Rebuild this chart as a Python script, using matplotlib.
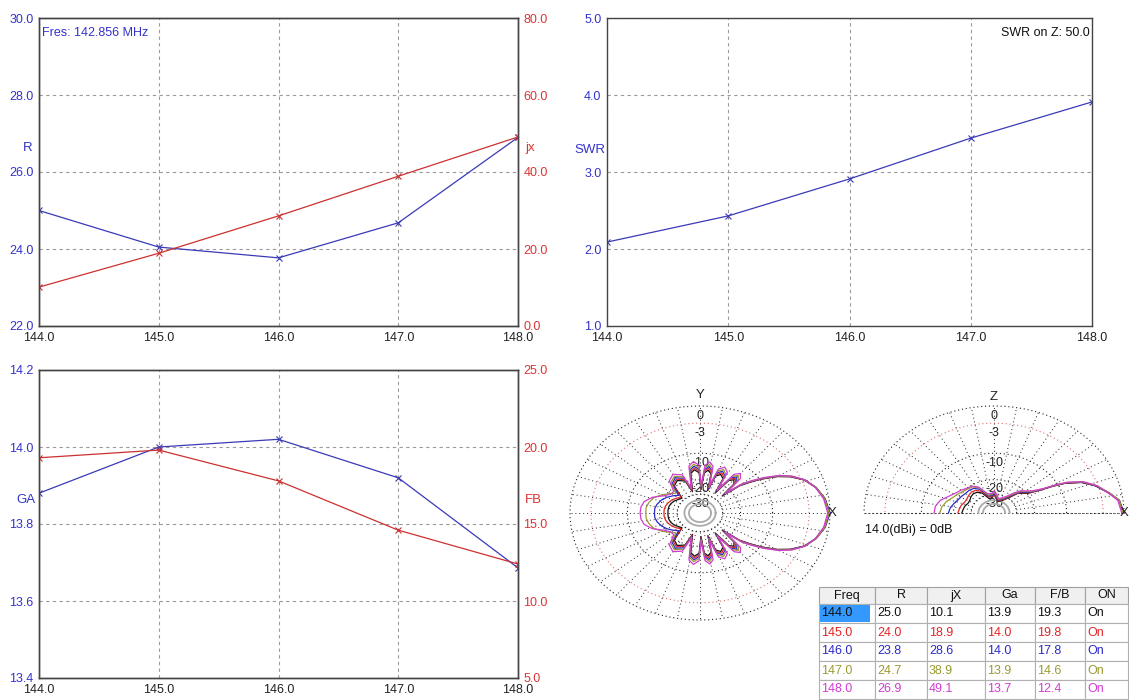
import numpy as np
import matplotlib.pyplot as plt

plt.rcParams['font.family'] = ['Liberation Sans', 'DejaVu Sans']
plt.rcParams['font.size'] = 9

# sweep data
freq = [144.0, 145.0, 146.0, 147.0, 148.0]
r_ohm = [25.0, 24.05, 23.77, 24.68, 26.9]
jx = [10.1, 18.9, 28.6, 38.9, 49.1]
swr = [2.09, 2.43, 2.91, 3.44, 3.91]
ga = [13.88, 14.0, 14.02, 13.92, 13.686]
fb = [19.3, 19.8, 17.8, 14.6, 12.4]

# table
table_cols = ['Freq', 'R', 'jX', 'Ga', 'F/B', 'ON']
table_rows = [
    ['144.0', '25.0', '10.1', '13.9', '19.3', 'On'],
    ['145.0', '24.0', '18.9', '14.0', '19.8', 'On'],
    ['146.0', '23.8', '28.6', '14.0', '17.8', 'On'],
    ['147.0', '24.7', '38.9', '13.9', '14.6', 'On'],
    ['148.0', '26.9', '49.1', '13.7', '12.4', 'On'],
]
freq_colors = ['#111111', '#e02626', '#2a2ac8', '#9a9a30', '#d23cd2']

# azimuth pattern, upper half (deg), dB rel. 14.0 dBi, mirrored below
az_ang = [0, 8, 15, 21, 26, 30, 34, 37, 40, 43,
          46, 50, 54, 58, 61, 66, 71, 74, 77, 81, 85, 88,
          91, 96, 101, 106, 111, 120, 128, 135,
          142, 150, 158, 166, 173, 180]
az_144 = [-0.1, -0.55, -1.4, -2.6, -4.4, -6.6, -9.8, -12.8, -16, -25,
          -16.8, -15.5, -16.8, -26, -17.3, -16, -17.3, -26, -16.8, -15.5, -16.8, -26,
          -16.8, -15.5, -16.8, -27, -19.5, -18, -19.5, -28,
          -27, -25.5, -24.5, -24, -24, -24]
az_145 = [0.0, -0.5, -1.35, -2.55, -4.35, -6.5, -9.7, -12.6, -15.7, -24.3,
          -16.1, -14.8, -16.1, -25.3, -16.6, -15.3, -16.6, -25.3, -16.1, -14.8, -16.1, -25.3,
          -16.1, -14.8, -16.1, -26.3, -18.8, -17.3, -18.8, -27,
          -25.5, -24, -23, -22.3, -22, -22]
az_146 = [0.0, -0.5, -1.35, -2.5, -4.3, -6.4, -9.5, -12.4, -15.4, -23.6,
          -15.4, -14.1, -15.4, -24.6, -15.9, -14.6, -15.9, -24.6, -15.4, -14.1, -15.4, -24.6,
          -15.4, -14.1, -15.4, -25.6, -18.1, -16.6, -18.1, -25,
          -23, -21, -19.5, -18.5, -18, -18]
az_147 = [-0.1, -0.55, -1.35, -2.5, -4.2, -6.3, -9.3, -12.1, -15.0, -22.9,
          -14.7, -13.4, -14.7, -23.9, -15.2, -13.9, -15.2, -23.9, -14.7, -13.4, -14.7, -23.9,
          -14.7, -13.4, -14.7, -24.9, -17.4, -15.9, -17.4, -23,
          -21, -18.5, -16.5, -15.5, -15, -15]
az_148 = [-0.3, -0.7, -1.45, -2.5, -4.1, -6.1, -9.0, -11.7, -14.5, -22,
          -13.8, -12.5, -13.8, -23, -14.3, -13, -14.3, -23, -13.8, -12.5, -13.8, -23,
          -13.8, -12.5, -13.8, -24, -16.5, -15, -16.5, -21.5,
          -21.5, -19.5, -16, -14, -13.4, -13.3]

# elevation pattern (deg above horizon, forward = 0)
el_ang = [0, 7, 12, 18, 23, 27, 29, 31, 35, 40, 45, 50, 60, 75, 85, 90, 95, 105,
          116, 124, 132, 140, 148, 156, 164, 172, 180]
el_144 = [-0.1, -0.5, -1.8, -3.4, -5.4, -8.5, -11.5, -15, -19.5, -21.5, -23, -28, -34, -38, -33, -30,
          -33, -34, -27, -25, -24.5, -25, -26, -26, -25, -24.5, -24]
el_145 = [0.0, -0.5, -1.7, -3.3, -5.3, -8.3, -11.3, -14.8, -19, -21, -22.5, -27, -33, -37, -32, -30,
          -32, -32, -25.5, -23.5, -23, -23.5, -24, -24, -23, -22.5, -22]
el_146 = [0.0, -0.5, -1.7, -3.3, -5.2, -8.2, -11.0, -14.5, -18.5, -20.5, -22, -26, -32, -36, -31, -29,
          -31, -31, -24, -22, -21.5, -21.5, -21, -20.5, -19.5, -18.5, -18]
el_147 = [-0.1, -0.5, -1.7, -3.2, -5.1, -8.0, -10.8, -14.2, -18, -20, -21.5, -25, -31, -35, -30, -28,
          -30, -30, -23, -21, -20.5, -20, -19, -18, -16.5, -15.5, -15]
el_148 = [-0.3, -0.7, -1.8, -3.2, -5.0, -7.8, -10.5, -14, -17.5, -19.5, -21, -24, -30, -34, -29, -27,
          -29, -29, -22.5, -20.5, -20, -19, -18, -16.5, -14.5, -13.5, -13.3]

ring_db = [0, -3, -10, -20, -30]

BLUE = '#3333cc'
RED = '#dd3333'
LBLUE = '#3a3ab8'
LRED = '#cc3030'

W, H = 1129, 700
fig = plt.figure(figsize=(W / 100, H / 100), dpi=100)


def px_axes(l, t, r, b):
    return fig.add_axes([l / W, 1 - b / H, (r - l) / W, (b - t) / H])


def style(ax, ycolor):
    for s in ax.spines.values():
        s.set_color('#444444')
        s.set_linewidth(1.0)
    ax.tick_params(axis='y', length=0, pad=4, colors=ycolor, labelsize=9)
    ax.tick_params(axis='x', length=0, pad=4, colors='#222222', labelsize=9)


def grid(ax):
    ax.grid(True, color='#9a9a9a', linestyle=(0, (3, 3)), linewidth=0.8)


def arrl(db):
    return 0.89 ** (-np.asarray(db, dtype=float) / 2.0)


xt = [f'{f:.1f}' for f in freq]

# --- R / jX ---
ax1 = px_axes(39, 18, 518, 326)
style(ax1, BLUE)
grid(ax1)
ax1.plot(freq, r_ohm, color=LBLUE, lw=0.9, marker='x', ms=4, mew=0.8)
ax1.set_xlim(144, 148)
ax1.set_ylim(22, 30)
ax1.set_yticks(np.arange(22, 31, 2))
ax1.set_yticklabels([f'{v:.1f}' for v in np.arange(22, 31, 2)])
ax1.set_xticks(freq)
ax1.set_xticklabels(xt)
ax1b = ax1.twinx()
style(ax1b, RED)
ax1b.plot(freq, jx, color=LRED, lw=0.9, marker='x', ms=4, mew=0.8)
ax1b.set_ylim(0, 80)
ax1b.set_yticks(np.arange(0, 81, 20))
ax1b.set_yticklabels([f'{v:.1f}' for v in np.arange(0, 81, 20)])
ax1.text(-0.023, 0.578, 'R', color=BLUE, transform=ax1.transAxes, ha='center', va='center', fontsize=9.5)
ax1.text(1.026, 0.578, 'jx', color=RED, transform=ax1.transAxes, ha='center', va='center', fontsize=9.5)
ax1.text(0.006, 0.95, 'Fres: 142.856 MHz', color=BLUE, transform=ax1.transAxes, ha='left', va='center', fontsize=9)

# --- SWR ---
ax2 = px_axes(607, 18, 1092, 326)
style(ax2, BLUE)
grid(ax2)
ax2.plot(freq, swr, color=LBLUE, lw=0.9, marker='x', ms=4, mew=0.8)
ax2.set_xlim(144, 148)
ax2.set_ylim(1, 5)
ax2.set_yticks(np.arange(1, 6, 1))
ax2.set_yticklabels([f'{v:.1f}' for v in np.arange(1, 6, 1)])
ax2.set_xticks(freq)
ax2.set_xticklabels(xt)
ax2.text(-0.035, 0.571, 'SWR', color=BLUE, transform=ax2.transAxes, ha='center', va='center', fontsize=9.5)
ax2.text(0.995, 0.95, 'SWR on Z: 50.0', color='#111111', transform=ax2.transAxes, ha='right', va='center', fontsize=9)

# --- GA / FB ---
ax3 = px_axes(39, 370, 518, 678)
style(ax3, BLUE)
grid(ax3)
ax3.plot(freq, ga, color=LBLUE, lw=0.9, marker='x', ms=4, mew=0.8)
ax3.set_xlim(144, 148)
ax3.set_ylim(13.4, 14.2)
gt = np.arange(13.4, 14.21, 0.2)
ax3.set_yticks(gt)
ax3.set_yticklabels([f'{v:.1f}' for v in gt])
ax3.set_xticks(freq)
ax3.set_xticklabels(xt)
ax3b = ax3.twinx()
style(ax3b, RED)
ax3b.plot(freq, fb, color=LRED, lw=0.9, marker='x', ms=4, mew=0.8)
ax3b.set_ylim(5, 25)
ax3b.set_yticks(np.arange(5, 26, 5))
ax3b.set_yticklabels([f'{v:.1f}' for v in np.arange(5, 26, 5)])
ax3.text(-0.027, 0.578, 'GA', color=BLUE, transform=ax3.transAxes, ha='center', va='center', fontsize=9.5)
ax3.text(1.033, 0.578, 'FB', color=RED, transform=ax3.transAxes, ha='center', va='center', fontsize=9.5)

# --- polar plots ---
SX, SY = 130, 107


def polar_axes(cx, cy, lr, rr, br, tr):
    ax = px_axes(cx - lr * SX, cy - tr * SY, cx + rr * SX, cy + br * SY)
    ax.set_xlim(-lr, rr)
    ax.set_ylim(-br, tr)
    ax.axis('off')
    return ax


def polar_grid(ax, half):
    t = np.linspace(0, np.pi if half else 2 * np.pi, 361)
    for d in ring_db:
        rr = arrl(d)
        c = '#e07070' if d == -3 else '#222222'
        ax.plot(rr * np.cos(t), rr * np.sin(t), color=c, lw=0.8, ls=(0, (1, 2.5)), zorder=1)
    r0 = arrl(-30)
    for a in np.deg2rad(np.arange(0, 360 if not half else 190, 10)):
        ax.plot([r0 * np.cos(a), np.cos(a)], [r0 * np.sin(a), np.sin(a)],
                color='#222222', lw=0.7, ls=(0, (1, 3)), zorder=1)
    for rg in (0.12, 0.085):
        ax.plot(rg * np.cos(t), rg * np.sin(t), color='#aaaaaa', lw=1.3, zorder=2)
    for d in ring_db:
        ax.text(0, arrl(d) - 0.09, f'{d}', ha='center', va='center', fontsize=9, color='#222222', zorder=1.5)


az_sets = [az_144, az_145, az_146, az_147, az_148]
el_sets = [el_144, el_145, el_146, el_147, el_148]

axa = polar_axes(700, 513, 1.12, 1.12, 1.12, 1.25)
polar_grid(axa, False)
a_half = np.deg2rad(az_ang)
for db, c in zip(az_sets, freq_colors):
    rr = arrl(db)
    ang = np.concatenate([a_half, 2 * np.pi - a_half[::-1]])
    rad = np.concatenate([rr, rr[::-1]])
    axa.plot(rad * np.cos(ang), rad * np.sin(ang), color=c, lw=0.9, zorder=3)
axa.text(0, 1.1, 'Y', ha='center', va='center', fontsize=9.5, color='#222222')
axa.text(0.985, 0, 'X', ha='left', va='center', fontsize=9.5, color='#222222')

axe = polar_axes(994, 513, 1.12, 1.12, 0.3, 1.25)
polar_grid(axe, True)
axe.plot([-1, 1], [0, 0], color='#222222', lw=0.8, ls=(0, (1, 2.5)), zorder=1)
e_ang = np.deg2rad(el_ang)
for db, c in zip(el_sets, freq_colors):
    rr = arrl(db)
    axe.plot(rr * np.cos(e_ang), rr * np.sin(e_ang), color=c, lw=0.9, zorder=3)
axe.text(0, 1.08, 'Z', ha='center', va='center', fontsize=9.5, color='#222222')
axe.text(0.97, 0, 'X', ha='left', va='center', fontsize=9.5, color='#222222')
axe.text(-0.99, -0.16, '14.0(dBi) = 0dB', ha='left', va='center', fontsize=9, color='#111111')

# --- table ---
axt = px_axes(818, 586, 1129, 700)
axt.set_xlim(818, 1129)
axt.set_ylim(700, 586)
axt.axis('off')
col_x = [819, 875, 927, 985, 1035, 1085, 1128]
row_y = [587, 604, 623, 642, 661, 680, 699]
for j in range(6):
    axt.add_patch(plt.Rectangle((col_x[j], row_y[0]), col_x[j + 1] - col_x[j], row_y[1] - row_y[0],
                                facecolor='#f0f0f0', edgecolor='#a0a0a0', lw=0.8))
    axt.text((col_x[j] + col_x[j + 1]) / 2, (row_y[0] + row_y[1]) / 2, table_cols[j],
             ha='center', va='center', fontsize=9, color='#111111')
for i, row in enumerate(table_rows):
    for j, val in enumerate(row):
        axt.add_patch(plt.Rectangle((col_x[j], row_y[i + 1]), col_x[j + 1] - col_x[j], row_y[i + 2] - row_y[i + 1],
                                    facecolor='white', edgecolor='#b0b0b0', lw=0.8))
        if i == 0 and j == 0:
            axt.add_patch(plt.Rectangle((col_x[0] + 1, row_y[1] + 1), 50, row_y[2] - row_y[1] - 2,
                                        facecolor='#3399ff', edgecolor='none'))
        axt.text(col_x[j] + 2, (row_y[i + 1] + row_y[i + 2]) / 2, val, ha='left', va='center',
                 fontsize=9, color=freq_colors[i])

fig.savefig('out.png', dpi=100)
